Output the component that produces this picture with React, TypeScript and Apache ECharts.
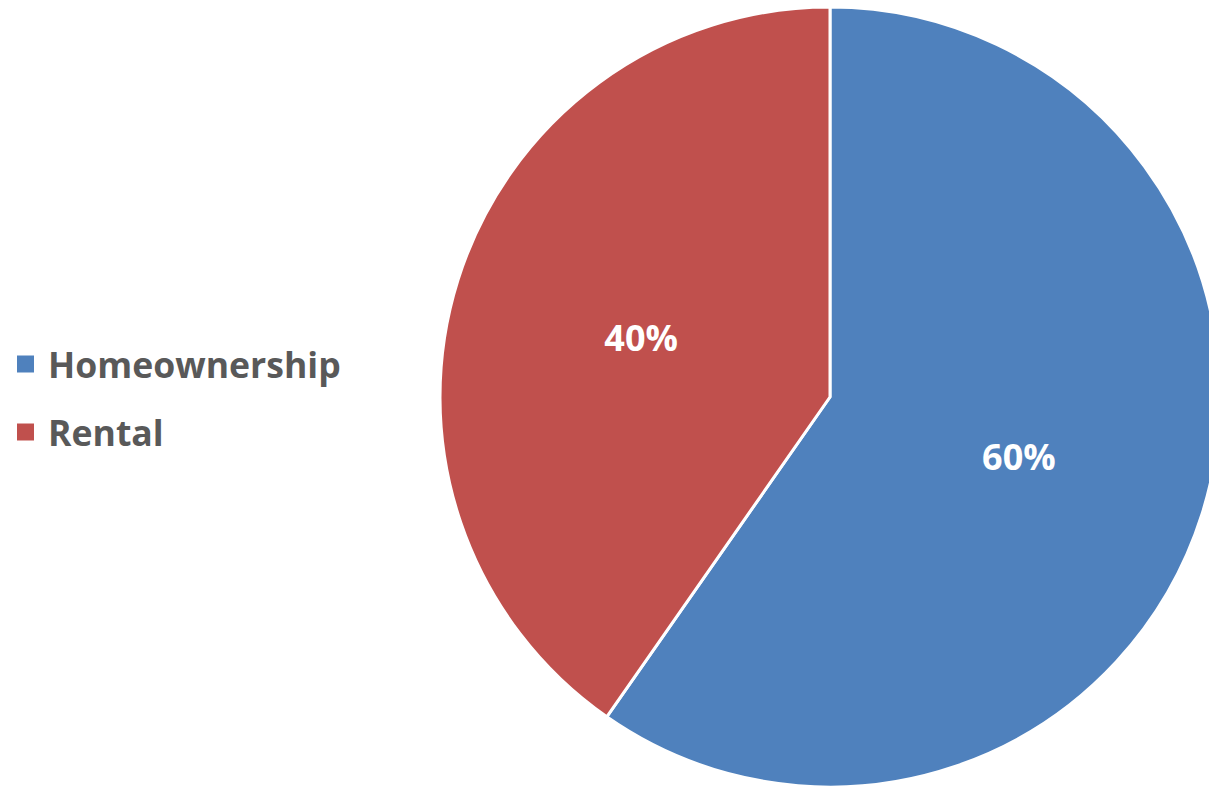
import React, { useEffect, useRef } from "react";
import * as echarts from "echarts";

const categories = ["Homeownership", "Rental"];
const values = [59.7, 40.3];
const colors = ["#4F81BD", "#C0504D"];

export default function App() {
  const ref = useRef<HTMLDivElement>(null);
  useEffect(() => {
    if (!ref.current) return;
    const chart = echarts.init(ref.current, null, { renderer: "svg" });
    chart.setOption({
      animation: false,
      backgroundColor: "#ffffff",
      color: colors,
      legend: {
        orient: "vertical",
        left: 17,
        top: 344,
        padding: 0,
        itemWidth: 17,
        itemHeight: 17,
        itemGap: 28,
        icon: "rect",
        selectedMode: false,
        data: categories,
        itemStyle: { borderWidth: 0 },
        textStyle: {
          fontFamily: "Open Sans",
          fontWeight: "bold",
          fontSize: 35.6,
          lineHeight: 40,
          color: "#595959",
          padding: [0, 0, 0, 9],
        },
      },
      series: [
        {
          type: "pie",
          center: [830, 397],
          radius: [0, 390],
          startAngle: 90,
          clockwise: true,
          silent: true,
          itemStyle: { borderColor: "#ffffff", borderWidth: 3 },
          label: {
            show: true,
            position: "inside",
            formatter: (p: any) => Math.round(p.percent) + "%",
            fontFamily: "Open Sans",
            fontWeight: "bold",
            fontSize: 36,
            color: "#ffffff",
          },
          labelLine: { show: false },
          emphasis: { disabled: true },
          data: categories.map((name, i) => ({ name, value: values[i] })),
        },
      ],
    });
    return () => chart.dispose();
  }, []);
  return (
    <div
      ref={ref}
      style={{ position: "fixed", left: 0, top: 0, width: 1209, height: 788 }}
    />
  );
}
